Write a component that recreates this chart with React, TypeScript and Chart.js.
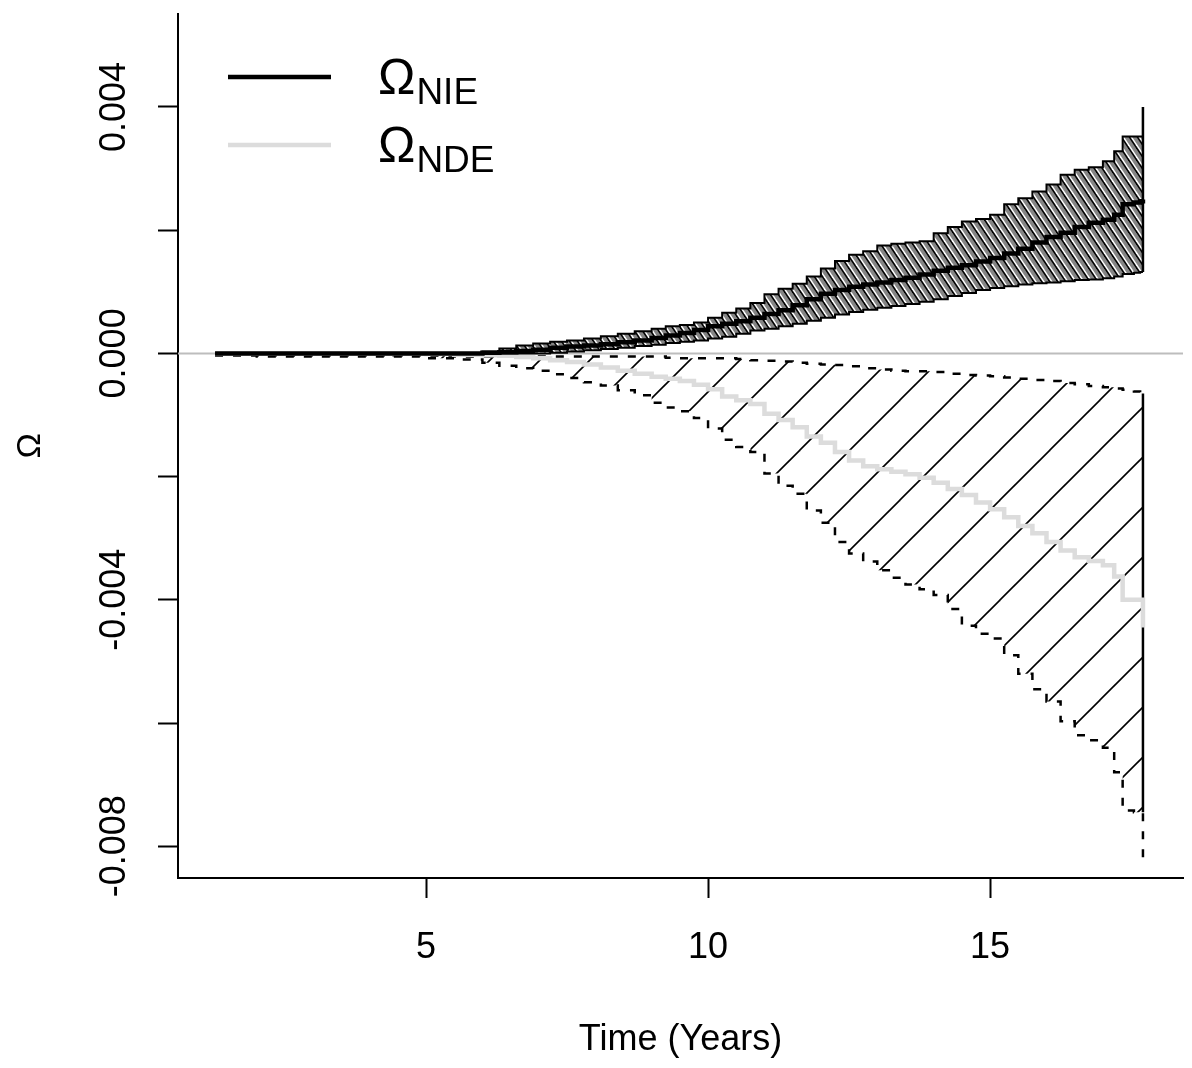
import React, { useEffect, useRef } from 'react';
import { Chart, registerables } from 'chart.js';

Chart.register(...registerables);

// ---- data ----
const times = [1.26, 2.0, 3.0, 4.0, 5.0, 5.5, 6.0, 6.3, 6.6, 6.9, 7.2, 7.5, 7.8, 8.1, 8.4, 8.7, 9.0, 9.25, 9.5, 9.75, 10.0, 10.25, 10.5, 10.75, 11.0, 11.25, 11.5, 11.75, 12.0, 12.25, 12.5, 12.75, 13.0, 13.25, 13.5, 13.75, 14.0, 14.25, 14.5, 14.75, 15.0, 15.25, 15.5, 15.75, 16.0, 16.25, 16.5, 16.75, 17.0, 17.2, 17.35, 17.55, 17.66, 17.71];

const nieUpper = [0, 0, 0, 0, 0, 0, 0.00003, 0.00008, 0.00013, 0.00016, 0.00019, 0.00021, 0.00024, 0.00028, 0.00032, 0.00036, 0.0004, 0.00044, 0.00046, 0.0005, 0.00058, 0.00066, 0.00073, 0.00082, 0.00096, 0.00105, 0.00113, 0.00125, 0.00138, 0.0015, 0.0016, 0.00166, 0.00175, 0.00178, 0.0018, 0.00182, 0.00195, 0.00205, 0.00214, 0.00218, 0.00225, 0.00242, 0.00252, 0.00263, 0.00274, 0.0029, 0.00298, 0.00302, 0.00312, 0.00328, 0.00352, 0.00352, 0.00352, 0.004];

const nieEstimate = [0, 0, 0, 0, 0, 0, 0.00001, 0.00002, 0.00004, 0.00006, 0.00009, 0.00011, 0.00013, 0.00015, 0.00018, 0.00021, 0.00025, 0.00029, 0.00033, 0.00038, 0.00044, 0.00048, 0.00052, 0.00058, 0.00064, 0.0007, 0.00078, 0.00088, 0.00097, 0.00103, 0.00108, 0.00112, 0.00115, 0.00119, 0.00123, 0.00128, 0.00134, 0.00139, 0.00143, 0.00149, 0.00155, 0.00162, 0.0017, 0.0018, 0.00189, 0.00196, 0.00205, 0.00212, 0.00217, 0.00225, 0.00242, 0.00245, 0.00247, 0.0025];

const nieLower = [0, 0, 0, 0, 0, 0, 0, 0, 0, 0, 0.00001, 0.00003, 0.00005, 0.00007, 0.00009, 0.00012, 0.00014, 0.00017, 0.00019, 0.00021, 0.00024, 0.00027, 0.00032, 0.00037, 0.0004, 0.00044, 0.00048, 0.00053, 0.00058, 0.00063, 0.00067, 0.00071, 0.00074, 0.00077, 0.0008, 0.00084, 0.00088, 0.00093, 0.00098, 0.00103, 0.00106, 0.00109, 0.00112, 0.00114, 0.00115, 0.00117, 0.00119, 0.0012, 0.00122, 0.00125, 0.00129, 0.00131, 0.00132, 0.00132];

const ndeEstimate = [0, 0, 0, 0, -0.00001, -0.00002, -0.00003, -0.00004, -0.00006, -0.00008, -0.00011, -0.00014, -0.00018, -0.00023, -0.00028, -0.00033, -0.00038, -0.00041, -0.00045, -0.00051, -0.00058, -0.0007, -0.00076, -0.00082, -0.00098, -0.00108, -0.0012, -0.00135, -0.00145, -0.0016, -0.00174, -0.00183, -0.00188, -0.00192, -0.00196, -0.00202, -0.0021, -0.0022, -0.0023, -0.00242, -0.00253, -0.00266, -0.0028, -0.00292, -0.00306, -0.0032, -0.00331, -0.00337, -0.00344, -0.00362, -0.004, -0.004, -0.004, -0.00445];

const ndeUpper = [-0.00003, -0.00003, -0.00003, -0.00003, -0.00004, -0.00005, -0.00005, -0.00005, -0.00005, -0.00005, -0.00005, -0.00005, -0.00005, -0.00005, -0.00005, -0.00005, -0.00005, -0.00007, -0.00008, -0.00008, -0.00008, -0.00008, -0.00009, -0.00011, -0.00012, -0.00013, -0.00015, -0.00017, -0.00018, -0.00019, -0.00021, -0.00024, -0.00026, -0.00028, -0.00029, -0.00029, -0.0003, -0.00033, -0.00035, -0.00036, -0.00037, -0.00039, -0.00041, -0.00043, -0.00045, -0.00048, -0.0005, -0.00053, -0.00055, -0.00057, -0.00059, -0.00062, -0.00065, -0.00065];

const ndeLower = [-0.00003, -0.00005, -0.00005, -0.00005, -0.00008, -0.0001, -0.00015, -0.0002, -0.00024, -0.00028, -0.00034, -0.0004, -0.00047, -0.00052, -0.0006, -0.00068, -0.0008, -0.00088, -0.00094, -0.00105, -0.00122, -0.0014, -0.00152, -0.0016, -0.00195, -0.00215, -0.00228, -0.00255, -0.00275, -0.00306, -0.00325, -0.00338, -0.00352, -0.00364, -0.00375, -0.00383, -0.00392, -0.00415, -0.00442, -0.00455, -0.00463, -0.0049, -0.0052, -0.00545, -0.00565, -0.00597, -0.0062, -0.00628, -0.0064, -0.0068, -0.00742, -0.00745, -0.00745, -0.00822];

const xTickValues = [5, 10, 15];
const yTickValues = [-0.008, -0.006, -0.004, -0.002, 0, 0.002, 0.004];
const yTickLabels = ['-0.008', '', '-0.004', '', '0.000', '', '0.004'];
const legendSubscripts = ['NIE', 'NDE'];
const xTitle = 'Time (Years)';
const yTitle = 'Ω';

const X_MIN = 0.603;
const X_MAX = 18.42;
const Y_MIN = -0.008516;
const Y_MAX = 0.005516;

const FONT = '"Liberation Sans", Arial, sans-serif';

const pts = (ys: number[]) => times.map((t, i) => ({ x: t, y: ys[i] }));

function densePattern(ctx: CanvasRenderingContext2D) {
  const w = 8;
  const h = 12;
  const c = document.createElement('canvas');
  c.width = w;
  c.height = h;
  const g = c.getContext('2d') as CanvasRenderingContext2D;
  g.fillStyle = '#858585';
  g.fillRect(0, 0, w, h);
  g.lineWidth = 1.5;
  for (let k = -3; k <= 3; k++) {
    g.strokeStyle = '#ffffff';
    g.beginPath();
    g.moveTo(-2, k * h - 3);
    g.lineTo(w + 2, k * h - 3 + 1.5 * (w + 4));
    g.stroke();
    g.strokeStyle = '#000000';
    g.beginPath();
    g.moveTo(-2, k * h);
    g.lineTo(w + 2, k * h + 1.5 * (w + 4));
    g.stroke();
  }
  return ctx.createPattern(c, 'repeat') as CanvasPattern;
}

function sparsePattern(ctx: CanvasRenderingContext2D) {
  const s = 50;
  const c = document.createElement('canvas');
  c.width = s;
  c.height = s;
  const g = c.getContext('2d') as CanvasRenderingContext2D;
  g.strokeStyle = '#000000';
  g.lineWidth = 1.6;
  for (let k = 0; k <= 2; k++) {
    g.beginPath();
    g.moveTo(-5, k * s + 5);
    g.lineTo(s + 5, k * s - s - 5);
    g.stroke();
  }
  return ctx.createPattern(c, 'repeat') as CanvasPattern;
}

const legendPlugin = {
  id: 'omegaLegend',
  afterDraw(chart: any) {
    const ctx = chart.ctx as CanvasRenderingContext2D;
    const colors = ['#000000', '#dcdcdc'];
    ctx.save();
    legendSubscripts.forEach((sub, i) => {
      const y = 77 + i * 68;
      ctx.strokeStyle = colors[i];
      ctx.lineWidth = 4.5;
      ctx.beginPath();
      ctx.moveTo(228, y);
      ctx.lineTo(331, y);
      ctx.stroke();
      ctx.fillStyle = '#000';
      ctx.textAlign = 'left';
      ctx.textBaseline = 'alphabetic';
      ctx.font = `50px ${FONT}`;
      ctx.fillText('Ω', 378, y + 17);
      const w = ctx.measureText('Ω').width;
      ctx.font = `37px ${FONT}`;
      ctx.fillText(sub, 378 + w + 1, y + 27);
    });
    ctx.restore();
  },
};

export default function App() {
  const ref = useRef<HTMLCanvasElement | null>(null);

  useEffect(() => {
    const canvas = ref.current;
    if (!canvas) return;
    const ctx = canvas.getContext('2d') as CanvasRenderingContext2D;
    const dense = densePattern(ctx);
    const sparse = sparsePattern(ctx);
    const last = times.length - 1;

    const line = (data: any[], extra: any) => ({
      data,
      pointRadius: 0,
      pointHoverRadius: 0,
      fill: false,
      stepped: true,
      ...extra,
    });

    const chart = new Chart(ctx, {
      type: 'line',
      data: {
        datasets: [
          line(pts(nieUpper), { label: 'NIE upper', borderColor: '#000', borderWidth: 2, fill: '+1', backgroundColor: dense, order: 1 }),
          line(pts(nieLower), { label: 'NIE lower', borderColor: '#000', borderWidth: 2, order: 1 }),
          line(pts(ndeUpper), { label: 'NDE upper', borderColor: '#000', borderWidth: 2.5, borderDash: [8, 10], fill: '+1', backgroundColor: sparse, order: 3 }),
          line(pts(ndeLower), { label: 'NDE lower', borderColor: '#000', borderWidth: 2.5, borderDash: [8, 10], order: 3 }),
          line(pts(nieEstimate), { label: 'ΩNIE', borderColor: '#000', borderWidth: 4.5, order: 0 }),
          line(pts(ndeEstimate), { label: 'ΩNDE', borderColor: '#dcdcdc', borderWidth: 4.5, order: 2 }),
          line([{ x: X_MIN, y: 0 }, { x: X_MAX, y: 0 }], { label: 'zero', borderColor: '#bdbdbd', borderWidth: 2, stepped: false, order: 4 }),
          line([{ x: times[last], y: nieUpper[last] }, { x: times[last], y: nieLower[last] }], { label: 'NIE end', borderColor: '#000', borderWidth: 2.5, stepped: false, order: 1 }),
          line([{ x: times[last], y: ndeUpper[last] }, { x: times[last], y: ndeLower[last - 1] }], { label: 'NDE end', borderColor: '#000', borderWidth: 2.5, stepped: false, order: 3 }),
        ],
      },
      options: {
        responsive: false,
        animation: false,
        devicePixelRatio: 1,
        layout: { padding: { top: 8, right: 9, left: 0, bottom: 0 } },
        plugins: {
          legend: { display: false },
          tooltip: { enabled: false },
          filler: { drawTime: 'beforeDatasetsDraw' },
        },
        scales: {
          x: {
            type: 'linear',
            min: X_MIN,
            max: X_MAX,
            afterBuildTicks: (s: any) => { s.ticks = xTickValues.map((v) => ({ value: v })); },
            afterFit: (s: any) => { s.height = 190; },
            grid: { display: true, drawOnChartArea: false, drawTicks: true, tickLength: 20, tickColor: '#000', tickWidth: 2 },
            border: { display: true, color: '#000', width: 2 },
            ticks: {
              color: '#000',
              font: { family: FONT, size: 36 },
              padding: 28,
              minRotation: 0,
              maxRotation: 0,
              callback: (v: any) => String(v),
            },
            title: {
              display: true,
              text: xTitle,
              color: '#000',
              font: { family: FONT, size: 36, lineHeight: 1.2 },
              padding: { top: 0, bottom: 6 },
            },
          },
          y: {
            type: 'linear',
            min: Y_MIN,
            max: Y_MAX,
            afterBuildTicks: (s: any) => { s.ticks = yTickValues.map((v) => ({ value: v })); },
            afterFit: (s: any) => { s.width = 178; },
            grid: { display: true, drawOnChartArea: false, drawTicks: true, tickLength: 20, tickColor: '#000', tickWidth: 2 },
            border: { display: true, color: '#000', width: 2 },
            ticks: {
              color: '#000',
              font: { family: FONT, size: 36 },
              padding: -8,
              minRotation: 90,
              maxRotation: 90,
              crossAlign: 'center',
              callback: (_v: any, i: number) => yTickLabels[i],
            },
            title: {
              display: true,
              text: yTitle,
              color: '#000',
              font: { family: FONT, size: 34, lineHeight: 1.2 },
              padding: { top: 10, bottom: 0 },
            },
          },
        },
      },
      plugins: [legendPlugin],
    } as any);

    return () => chart.destroy();
  }, []);

  return (
    <div style={{ position: 'absolute', left: 0, top: 0, width: 1192, height: 1068, background: '#fff' }}>
      <canvas ref={ref} width={1192} height={1068} />
    </div>
  );
}
